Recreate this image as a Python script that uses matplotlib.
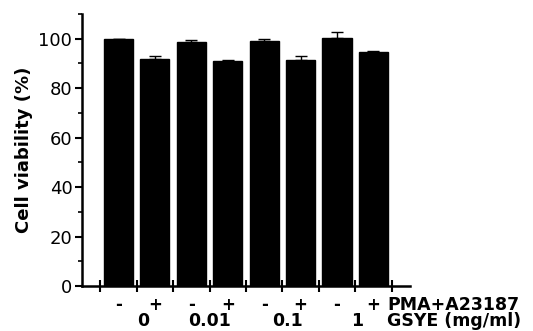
import matplotlib
matplotlib.use("Agg")
import matplotlib.pyplot as plt
from matplotlib.ticker import MultipleLocator

plt.rcParams['font.family'] = ['DejaVu Sans']

# data
pma = ['-', '+', '-', '+', '-', '+', '-', '+']
gsye = ['0', '0.01', '0.1', '1']
viability = [100.0, 91.8, 98.6, 91.1, 98.9, 91.2, 100.3, 94.6]
sem = [0.0, 1.1, 0.8, 0.4, 1.1, 1.7, 2.4, 0.4]

fig = plt.figure(figsize=(5.33, 3.31), dpi=100)
ax = fig.add_axes([0.154, 0.136, 0.615, 0.822])

x = list(range(len(viability)))
ax.bar(x, viability, width=0.8, color='black', edgecolor='black',
       yerr=[[0] * len(sem), sem], error_kw=dict(ecolor='black', elinewidth=1, capsize=4, capthick=1))

ax.set_xlim(-1, 8)
ax.set_ylim(0, 110)
ax.spines['top'].set_visible(False)
ax.spines['right'].set_visible(False)
ax.spines['left'].set_linewidth(1.8)
ax.spines['bottom'].set_linewidth(1.8)

ax.set_yticks([0, 20, 40, 60, 80, 100])
ax.yaxis.set_minor_locator(MultipleLocator(10))
ax.tick_params(axis='y', which='major', length=5, width=1.5, labelsize=13, pad=2)
ax.tick_params(axis='y', which='minor', length=3, width=1.2)

ax.set_xticks([i - 0.5 for i in range(len(viability) + 1)])
ax.set_xticklabels([])
ax.tick_params(axis='x', direction='inout', length=8, width=1.5)

ax.set_ylabel('Cell viability (%)', fontsize=13, fontweight='bold', labelpad=4)

tr = ax.get_xaxis_transform()
for i, s in enumerate(pma):
    ax.text(i, -0.07, s, transform=tr, ha='center', va='center', fontsize=12, fontweight='bold')
group_x = [0.67, 2.5, 4.64, 6.56]
for gx, g in zip(group_x, gsye):
    ax.text(gx, -0.13, g, transform=tr, ha='center', va='center', fontsize=12.5, fontweight='bold')
ax.text(7.38, -0.07, 'PMA+A23187', transform=tr, ha='left', va='center', fontsize=12.5, fontweight='bold')
ax.text(7.38, -0.13, 'GSYE (mg/ml)', transform=tr, ha='left', va='center', fontsize=12.5, fontweight='bold')

fig.savefig('out.png', dpi=100)
